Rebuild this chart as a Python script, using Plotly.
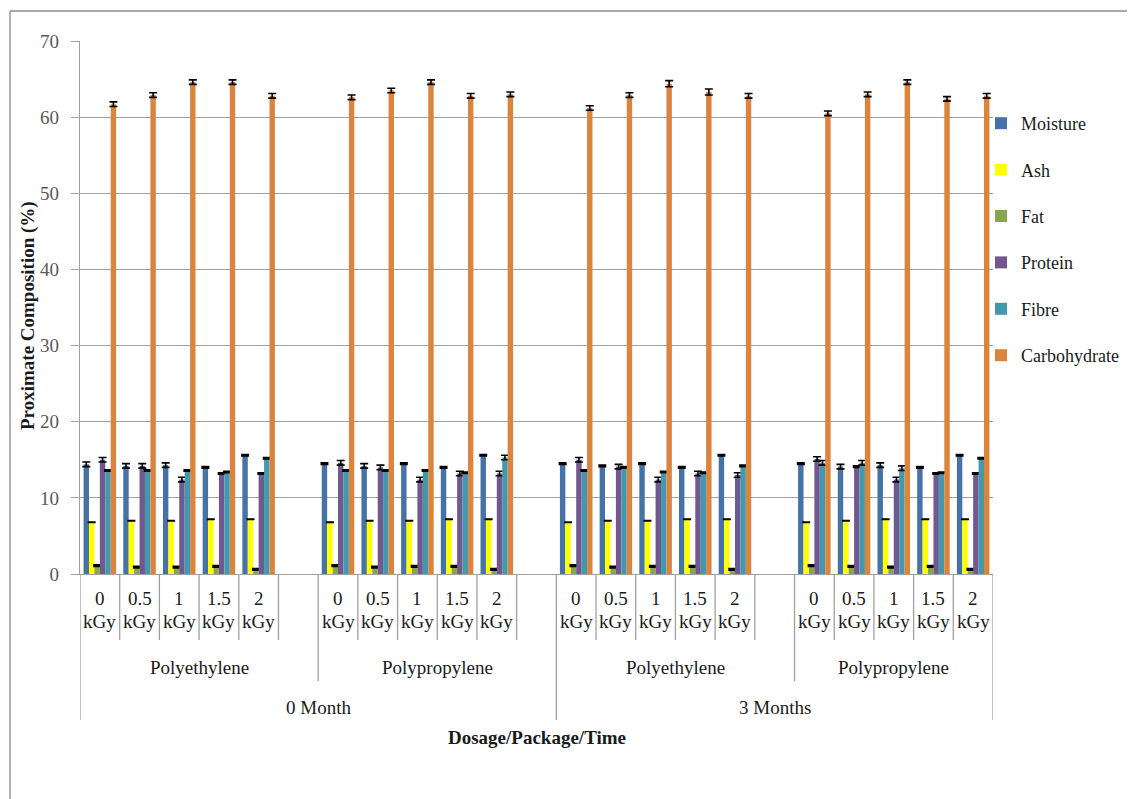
import plotly.graph_objects as go

months = ["0 Month", "3 Months"]
packages = ["Polyethylene", "Polypropylene"]
doses = ["0", "0.5", "1", "1.5", "2"]
dose_unit = "kGy"
nutrients = ["Moisture", "Ash", "Fat", "Protein", "Fibre", "Carbohydrate"]
colors = ["#4572A7", "#FFFF00", "#89A54E", "#71588F", "#4198AF", "#DB843D"]

# order: PE 0 Month, PP 0 Month, PE 3 Months, PP 3 Months; 5 doses each
moisture = [14.4, 14.2, 14.3, 14.0, 15.6,  14.5, 14.2, 14.5, 14.0, 15.6,
            14.5, 14.2, 14.5, 14.0, 15.6,  14.5, 14.1, 14.3, 14.0, 15.6]
ash = [6.8, 7.0, 7.0, 7.2, 7.2,  6.8, 7.0, 7.0, 7.2, 7.2,
       6.8, 7.0, 7.0, 7.2, 7.2,  6.8, 7.0, 7.2, 7.2, 7.2]
fat = [1.1, 0.9, 0.9, 1.0, 0.6,  1.1, 0.9, 1.0, 1.0, 0.6,
       1.1, 0.9, 1.0, 1.0, 0.6,  1.1, 1.0, 0.9, 1.0, 0.6]
protein = [15.0, 14.2, 12.4, 13.2, 13.2,  14.6, 14.0, 12.4, 13.2, 13.2,
           15.0, 14.1, 12.4, 13.2, 13.0,  15.1, 14.1, 12.4, 13.2, 13.2]
fibre = [13.6, 13.6, 13.6, 13.4, 15.2,  13.6, 13.6, 13.6, 13.3, 15.3,
         13.6, 14.0, 13.4, 13.3, 14.2,  14.6, 14.6, 13.9, 13.3, 15.2]
carbohydrate = [61.7, 62.9, 64.6, 64.6, 62.8,  62.6, 63.5, 64.6, 62.8, 63.0,
                61.2, 62.9, 64.4, 63.3, 62.8,  60.5, 63.0, 64.6, 62.4, 62.8]

err_moisture = [0.3, 0.3, 0.3, 0.1, 0.1,  0.1, 0.3, 0.1, 0.1, 0.1,
                0.1, 0.1, 0.1, 0.1, 0.1,  0.1, 0.3, 0.3, 0.1, 0.1]
err_ash = [0.02] * 20
err_fat = [0.1] * 20
err_protein = [0.3, 0.3, 0.3, 0.1, 0.1,  0.3, 0.3, 0.3, 0.3, 0.3,
               0.3, 0.3, 0.3, 0.3, 0.3,  0.3, 0.1, 0.3, 0.1, 0.1]
err_fibre = [0.1, 0.1, 0.1, 0.1, 0.1,  0.1, 0.1, 0.1, 0.1, 0.3,
             0.1, 0.1, 0.1, 0.1, 0.1,  0.3, 0.3, 0.3, 0.1, 0.1]
err_carb = [0.3, 0.3, 0.3, 0.3, 0.3,  0.3, 0.3, 0.3, 0.3, 0.3,
            0.3, 0.3, 0.4, 0.4, 0.3,  0.3, 0.3, 0.3, 0.3, 0.3]

series = [moisture, ash, fat, protein, fibre, carbohydrate]
errors = [err_moisture, err_ash, err_fat, err_protein, err_fibre, err_carb]

# group layout: (month index, package index)
groups = [(m, p) for m in range(len(months)) for p in range(len(packages))]
slot = len(doses) + 1  # one blank category after each package group
xpos = [g * slot + d for g in range(len(groups)) for d in range(len(doses))]
n_cat = len(groups) * slot - 1

FONT = "Liberation Serif"
fig = go.Figure()
for name, vals, err, col in zip(nutrients, series, errors, colors):
    fig.add_trace(go.Bar(
        x=xpos, y=vals, name=name, legendgroup=name,
        marker=dict(color=col, line=dict(width=0)),
        error_y=dict(type="data", array=err, visible=True,
                     color="black", thickness=1.6, width=4),
    ))

# page has an 8px body margin; work in page pixels and convert
OFF = 8
W, H = 1135 - OFF, 799 - OFF
L, R, T, B = 80 - OFF, 993 - OFF, 41 - OFF, 574 - OFF
ph = B - T
pw = R - L


def py(pix):  # page pixel y -> paper y
    return (B - (pix - OFF)) / ph


def px(pix):  # page pixel x -> paper x
    return ((pix - OFF) - L) / pw


def dy(pix):  # page pixel y -> shift below axis
    return -((pix - OFF) - B)


shapes = []
annotations = []
line_col = "#A0A0A0"
txt_col = "#1a1a1a"
for g, (m, p) in enumerate(groups):
    base = g * slot
    for d, dv in enumerate(doses):
        annotations.append(dict(x=base + d, y=0, xref="x", yref="paper",
                                text=dv, showarrow=False, yanchor="middle",
                                yshift=dy(598), font=dict(size=19, color=txt_col, family=FONT)))
        annotations.append(dict(x=base + d, y=0, xref="x", yref="paper",
                                text=dose_unit, showarrow=False, yanchor="middle",
                                yshift=dy(621), font=dict(size=19, color=txt_col, family=FONT)))
        if d > 0:
            shapes.append(dict(type="line", xref="x", yref="paper",
                               x0=base + d - 0.5, x1=base + d - 0.5, y0=0, y1=py(640),
                               line=dict(color=line_col, width=1.3)))
    end_d = base + len(doses) - 0.5
    if g < len(groups) - 1:
        shapes.append(dict(type="line", xref="x", yref="paper",
                           x0=end_d, x1=end_d, y0=0, y1=py(640),
                           line=dict(color=line_col, width=1.3)))
    start = base - 0.5
    stop = min(base + slot - 0.5, n_cat - 0.5)
    annotations.append(dict(x=(start + stop) / 2, y=0, xref="x", yref="paper",
                            text=packages[p], showarrow=False, yanchor="middle",
                            yshift=dy(667), font=dict(size=19, color=txt_col, family=FONT)))
    y_end = py(720) if p == 0 else py(681)
    shapes.append(dict(type="line", xref="x", yref="paper",
                       x0=start, x1=start, y0=0, y1=y_end,
                       line=dict(color=line_col, width=1.3)))

per_month = len(packages) * slot
for m, mname in enumerate(months):
    start = m * per_month - 0.5
    stop = min((m + 1) * per_month - 0.5, n_cat - 0.5)
    annotations.append(dict(x=(start + stop) / 2, y=0, xref="x", yref="paper",
                            text=mname, showarrow=False, yanchor="middle",
                            yshift=dy(707), font=dict(size=19, color=txt_col, family=FONT)))
shapes.append(dict(type="line", xref="x", yref="paper",
                   x0=n_cat - 0.5, x1=n_cat - 0.5, y0=0, y1=py(720),
                   line=dict(color=line_col, width=1.3)))

# axis titles
annotations.append(dict(x=(n_cat - 1) / 2, y=0, xref="x", yref="paper",
                        text="<b>Dosage/Package/Time</b>", showarrow=False, yanchor="middle",
                        yshift=dy(737), font=dict(size=19, color=txt_col, family=FONT)))
annotations.append(dict(x=px(28), y=py(316), xref="paper", yref="paper",
                        xanchor="center", yanchor="middle",
                        text="<b>Proximate Composition (%)</b>", showarrow=False,
                        textangle=-90, font=dict(size=19, color=txt_col, family=FONT)))

# outer chart border (left & top)
shapes.append(dict(type="line", xref="paper", yref="paper",
                   x0=px(10), x1=px(10), y0=py(11), y1=py(820),
                   line=dict(color="#8C8C8C", width=1.3)))
shapes.append(dict(type="line", xref="paper", yref="paper",
                   x0=px(10), x1=px(1150), y0=py(11), y1=py(11),
                   line=dict(color="#8C8C8C", width=1.3)))

fig.update_layout(
    width=W, height=H,
    margin=dict(l=L, r=W - R, t=T, b=H - B, autoexpand=False),
    paper_bgcolor="white", plot_bgcolor="white",
    barmode="group", bargap=0.18, bargroupgap=0,
    font=dict(family=FONT, size=19, color=txt_col),
    showlegend=True,
    legend=dict(x=px(981), xanchor="left", y=py(105), yanchor="top",
                bgcolor="rgba(0,0,0,0)", font=dict(size=18, family=FONT, color=txt_col),
                tracegroupgap=20, itemwidth=30),
    shapes=shapes, annotations=annotations,
    xaxis=dict(range=[-0.5, n_cat - 0.5], showticklabels=False, showgrid=False,
               zeroline=False, showline=True, linecolor=line_col, linewidth=1.3, ticks=""),
    yaxis=dict(range=[0, 70], dtick=10, showgrid=True, gridcolor=line_col, gridwidth=1.3,
               zeroline=False, showline=True, linecolor=line_col, linewidth=1.3,
               ticks="outside", ticklen=8, tickcolor=line_col, tickwidth=1.3,
               ticklabelstandoff=8,
               tickfont=dict(size=19, color="#595959", family=FONT)),
)

fig.write_html("out.html")
